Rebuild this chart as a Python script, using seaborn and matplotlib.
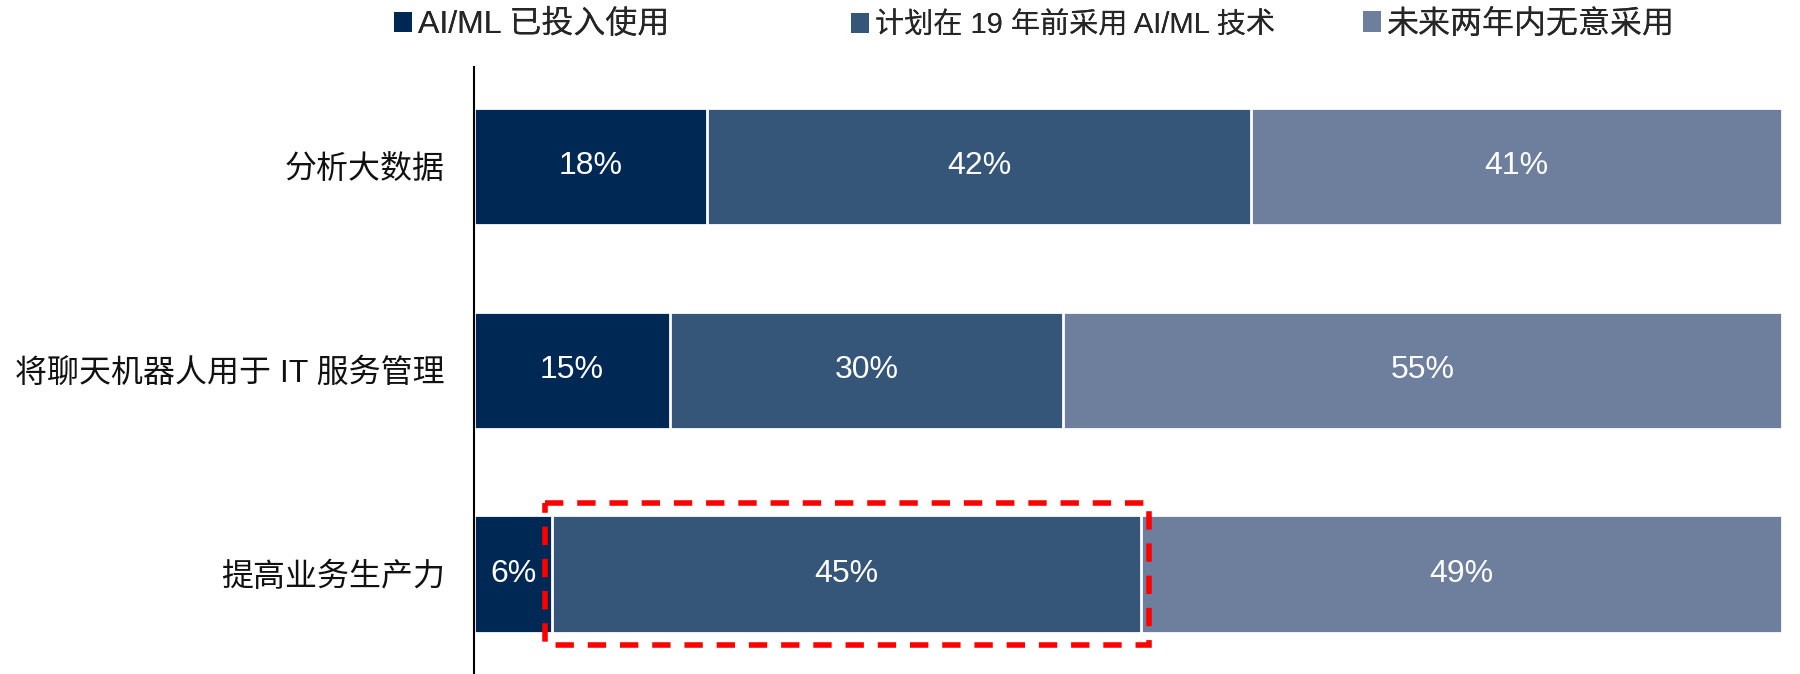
import matplotlib
matplotlib.use("Agg")
import matplotlib.pyplot as plt
import seaborn as sns
import pandas as pd
import numpy as np
from matplotlib.patches import Patch, Rectangle

categories = ["分析大数据", "将聊天机器人用于 IT 服务管理", "提高业务生产力"]
series_names = ["AI/ML 已投入使用", "计划在 19 年前采用 AI/ML 技术", "未来两年内无意采用"]
in_use = [18, 15, 6]
planned = [42, 30, 45]
no_plan = [41, 55, 49]
colors = ["#002855", "#355678", "#6e7e9d"]

sns.set_theme(style="white")
plt.rcParams["font.family"] = ["Liberation Sans", "Noto Sans CJK SC", "DejaVu Sans"]

vals = np.array([in_use, planned, no_plan], dtype=float)  # series x rows
totals = vals.sum(axis=0)
norm = vals / totals * 100
cum = np.cumsum(norm, axis=0)

fig = plt.figure(figsize=(18, 6.74), dpi=100)
ax = fig.add_axes([0.2633, 0.0, 0.7267, 0.90])

# draw cumulative bars from longest to shortest so they stack
for i in range(2, -1, -1):
    df = pd.DataFrame({"cat": categories, "val": cum[i]})
    sns.barplot(data=df, x="val", y="cat", orient="h", color=colors[i],
                width=0.575, edgecolor="white", linewidth=2, ax=ax,
                saturation=1)

# labels
for i in range(3):
    for r in range(3):
        start = cum[i - 1][r] if i > 0 else 0
        mid = (start + cum[i][r]) / 2
        ax.text(mid, r, f"{int(vals[i][r])}%", ha="center", va="center",
                color="white", fontsize=23)

# red dashed highlight around planned segment of last row
r = 2
x0 = cum[0][r] - 0.6
x1 = cum[1][r] + 0.6
rect = Rectangle((x0, r - 0.35), x1 - x0, 0.70, fill=False, edgecolor="#ff0000",
                 linewidth=4, linestyle=(0, (3.3, 2.5)), zorder=5, clip_on=False)
ax.add_patch(rect)

ax.set_xlim(0, 100)
ax.set_ylim(2.49, -0.485)
ax.set_xlabel("")
ax.set_ylabel("")
ax.set_xticks([])
for s in ["top", "right", "bottom"]:
    ax.spines[s].set_visible(False)
ax.spines["left"].set_color("black")
ax.spines["left"].set_linewidth(1.5)
ax.tick_params(axis="y", length=0, pad=21, labelsize=23, labelcolor="#111111")

legend_x = [0.2188, 0.4727, 0.7572]
legend_fs = [23, 21, 23]
legend_y = [0.985, 0.983, 0.985]
for c, name, lx, fs, ly in zip(colors, series_names, legend_x, legend_fs, legend_y):
    em = fs * 100 / 72
    leg = fig.legend([Patch(facecolor=c, edgecolor="none")], [name],
                     loc="upper left", bbox_to_anchor=(lx, ly),
                     frameon=False, fontsize=fs, handlelength=18 / em,
                     handleheight=20 / em, handletextpad=0.2,
                     borderaxespad=0, borderpad=0)
    fig.add_artist(leg)

fig.savefig("out.png", dpi=100)
